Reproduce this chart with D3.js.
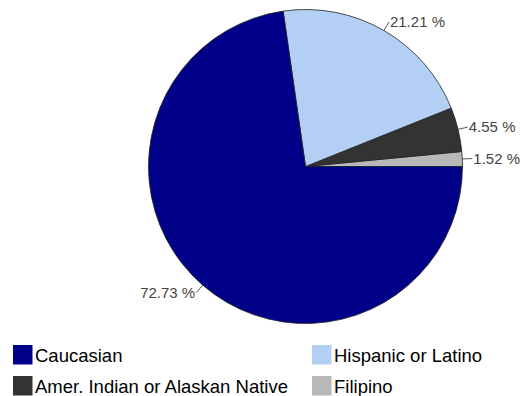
<!DOCTYPE html>
<html>
<head>
<meta charset="utf-8">
<title>Pie</title>
<script src="https://cdn.jsdelivr.net/npm/d3@7"></script>
<style>
  body { margin: 0; background: #fff; }
  text { font-family: "Liberation Sans", Arial, sans-serif; }
</style>
</head>
<body>
<script>
// slices in drawing order, counter-clockwise from 3 o'clock
var categories = ["Filipino", "Amer. Indian or Alaskan Native", "Hispanic or Latino", "Caucasian"];
var values = [1.52, 4.55, 21.21, 72.73];
var colors = ["#b8b8b8", "#333333", "#b3cff3", "#000088"];
// legend order as shown
var legendOrder = ["Caucasian", "Hispanic or Latino", "Amer. Indian or Alaskan Native", "Filipino"];

var w = 532, h = 396;
var cx = 305.5, cy = 166.5, r = 157;

var svg = d3.select("body").append("svg")
    .attr("width", w)
    .attr("height", h);

var color = d3.scaleOrdinal().domain(categories).range(colors);

var pie = d3.pie()
    .sort(null)
    .startAngle(Math.PI / 2)
    .endAngle(Math.PI / 2 - 2 * Math.PI)
    .value(function(d) { return d.v; });

var data = categories.map(function(c, i) { return {name: c, v: values[i]}; });
var arcs = pie(data);

var arc = d3.arc().innerRadius(0).outerRadius(r);

var g = svg.append("g").attr("transform", "translate(" + cx + "," + cy + ")");

g.selectAll("path")
    .data(arcs)
    .enter()
    .append("path")
    .attr("d", arc)
    .attr("fill", function(d) { return color(d.data.name); })
    .attr("stroke", "#222")
    .attr("stroke-width", 0.8);

// labels with short leader lines
function mid(d) { return (d.startAngle + d.endAngle) / 2; }
function pt(a, rad) { return [Math.sin(a) * rad, -Math.cos(a) * rad]; }

var lab = g.selectAll(".lab")
    .data(arcs)
    .enter()
    .append("g")
    .attr("class", "lab");

lab.append("line")
    .attr("x1", function(d) { return pt(mid(d), r)[0]; })
    .attr("y1", function(d) { return pt(mid(d), r)[1]; })
    .attr("x2", function(d) { return pt(mid(d), r + 10)[0]; })
    .attr("y2", function(d) { return pt(mid(d), r + 10)[1]; })
    .attr("stroke", "#555")
    .attr("stroke-width", 1);

lab.append("text")
    .attr("x", function(d) {
        var p = pt(mid(d), r + 10);
        return p[0] + (Math.sin(mid(d)) >= 0 ? 1 : -1);
    })
    .attr("y", function(d) { return pt(mid(d), r + 10)[1]; })
    .attr("dy", "0.35em")
    .attr("text-anchor", function(d) { return Math.sin(mid(d)) >= 0 ? "start" : "end"; })
    .attr("font-size", 15)
    .attr("fill", "#444")
    .text(function(d) { return d.data.v.toFixed(2) + " %"; });

// legend, two columns
var legX = [13, 312], legY = [345, 376];
var leg = svg.selectAll(".leg")
    .data(legendOrder)
    .enter()
    .append("g")
    .attr("class", "leg")
    .attr("transform", function(d, i) {
        return "translate(" + legX[i % 2] + "," + legY[Math.floor(i / 2)] + ")";
    });

leg.append("rect")
    .attr("width", 19.5)
    .attr("height", 19.5)
    .attr("fill", function(d) { return color(d); });

leg.append("text")
    .attr("x", 22)
    .attr("y", 17)
    .attr("font-size", 18.5)
    .attr("fill", "#000")
    .text(function(d) { return d; });
</script>
</body>
</html>
